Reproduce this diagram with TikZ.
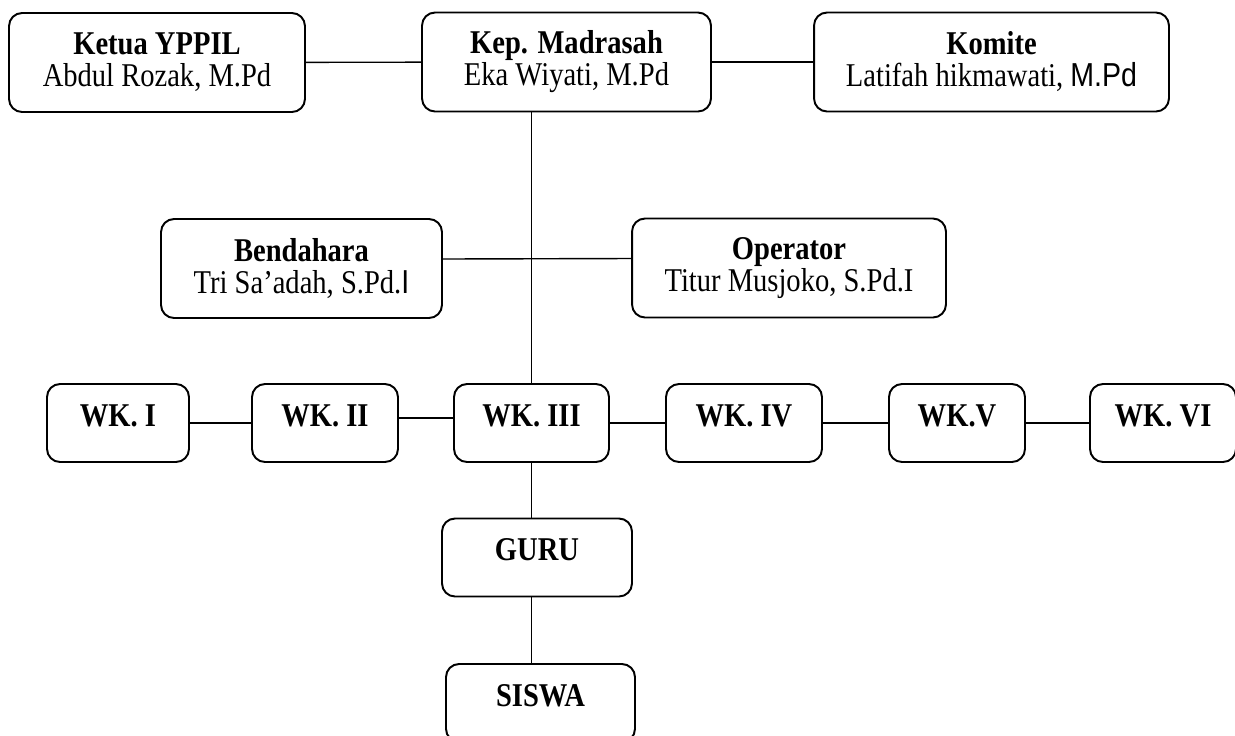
\documentclass[tikz,border=0pt]{standalone}
\usepackage{fontspec}
\setmainfont[FakeStretch=0.86]{Liberation Serif}
\newfontfamily\arialfont[FakeStretch=0.86]{Liberation Sans}
\begin{document}
\begin{tikzpicture}[x=0.02cm,y=-0.02cm,
    font=\fontsize{18.9}{18.2}\selectfont,
    orgbox/.style={draw,line width=1.1pt,rounded corners=0.26cm,align=center,inner sep=0pt,minimum height=1.98cm},
    wkbox/.style={draw,line width=1.1pt,rounded corners=0.26cm,inner sep=0pt,text height=0.84cm,text depth=0.72cm,font=\fontsize{18.9}{18.2}\selectfont\bfseries},
    link/.style={line width=0.8pt}]
  \useasboundingbox (0,0) rectangle (1235,735);
  \node[orgbox,minimum width=5.92cm] (ketua) at (157,62.5) {\textbf{Ketua YPPIL}\\Abdul Rozak, M.Pd};
  \node[orgbox,minimum width=5.78cm] (kep) at (566.5,62) {\textbf{Kep. Madrasah}\\Eka Wiyati, M.Pd};
  \node[orgbox,minimum width=7.1cm] (komite) at (991.5,62) {\textbf{Komite}\\Latifah hikmawati, {\arialfont M.Pd}};
  \node[orgbox,minimum width=5.62cm] (bendahara) at (301.5,268.5) {\textbf{Bendahara}\\Tri Sa’adah, S.Pd.{\arialfont I}};
  \node[orgbox,minimum width=6.28cm] (operator) at (789,268) {\textbf{Operator}\\Titur Musjoko, S.Pd.I};
  \node[wkbox,minimum width=2.84cm] (wk1) at (118,423) {WK. I};
  \node[wkbox,minimum width=2.92cm] (wk2) at (325,423) {WK. II};
  \node[wkbox,minimum width=3.1cm] (wk3) at (531.5,423) {WK. III};
  \node[wkbox,minimum width=3.12cm] (wk4) at (744,423) {WK. IV};
  \node[wkbox,minimum width=2.72cm] (wk5) at (957,423) {WK.V};
  \node[wkbox,minimum width=2.92cm] (wk6) at (1163,423) {WK. VI};
  \node[wkbox,minimum width=3.8cm] (guru) at (537,557.5) {GURU};
  \node[wkbox,minimum width=3.78cm] (siswa) at (540.5,703) {SISWA};
  \path[link] (ketua) edge (kep)
    (kep) edge (komite)
    ([yshift=0.19cm]bendahara.east) edge ([yshift=0.19cm]operator.west)
    (wk1) edge (wk2)
    ([yshift=0.1cm]wk2.east) edge ([yshift=0.1cm]wk3.west)
    (wk3) edge (wk4)
    (wk4) edge (wk5)
    (wk5) edge (wk6);
  \draw[link] (kep.south -| wk3.north) -- (wk3.north);
  \draw[link] (wk3.south) -- (wk3.south |- guru.north);
  \draw[link] (wk3.south |- guru.south) -- (wk3.south |- siswa.north);
\end{tikzpicture}
\end{document}
